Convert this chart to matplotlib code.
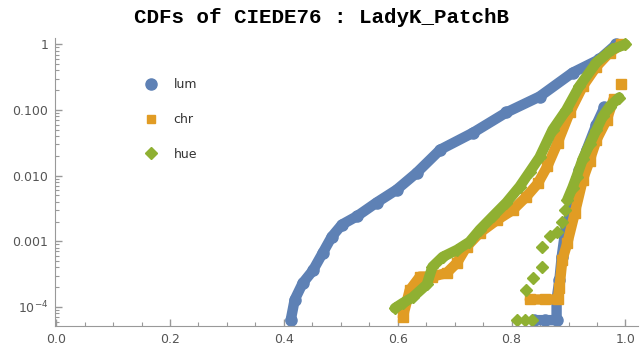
import numpy as np
import matplotlib.pyplot as plt
from matplotlib.lines import Line2D
from matplotlib.ticker import LogLocator, NullFormatter, MultipleLocator

plt.rcParams["font.family"] = "DejaVu Sans"

# values (x = CIEDE76 score, y = CDF, log scale)
lum_x = [0.412, 0.419, 0.433, 0.451, 0.468, 0.484, 0.502, 0.528, 0.563, 0.598,
         0.633, 0.675, 0.732, 0.791, 0.849, 0.907, 0.954, 0.984]
lum_y = [6.3e-5, 1.29e-4, 2.3e-4, 3.6e-4, 6.6e-4, 1.17e-3, 1.8e-3, 2.4e-3, 3.9e-3, 6.1e-3,
         0.011, 0.025, 0.045, 0.092, 0.16, 0.37, 0.59, 1.0]
lum2_x = [0.840, 0.858, 0.879, 0.879, 0.884, 0.888, 0.893, 0.896, 0.907, 0.914,
          0.919, 0.932, 0.949, 0.963]
lum2_y = [6.3e-5, 6.3e-5, 6.3e-5, 1.3e-4, 2.6e-4, 5.8e-4, 1.2e-3, 1.7e-3, 3.4e-3, 6.8e-3,
          0.012, 0.025, 0.060, 0.11]

chr_x = [0.609, 0.621, 0.639, 0.661, 0.686, 0.704, 0.721, 0.744, 0.774, 0.802,
         0.826, 0.846, 0.863, 0.881, 0.902, 0.925, 0.949, 0.972, 0.993]
chr_y = [7.1e-5, 1.8e-4, 2.9e-4, 2.9e-4, 3.3e-4, 4.7e-4, 8.3e-4, 1.35e-3, 2.1e-3, 3.0e-3,
         4.8e-3, 7.6e-3, 0.014, 0.032, 0.092, 0.23, 0.46, 0.75, 1.0]
chr2_x = [0.832, 0.858, 0.881, 0.884, 0.889, 0.898, 0.911, 0.925, 0.937, 0.949,
          0.967, 0.979]
chr2_y = [1.3e-4, 1.3e-4, 1.3e-4, 1.95e-4, 5.2e-4, 9.5e-4, 2.7e-3, 8.7e-3, 0.017, 0.035,
          0.071, 0.145]
chr_pt_x = [0.993]
chr_pt_y = [0.245]

hue_x = [0.595, 0.609, 0.626, 0.651, 0.661, 0.679, 0.704, 0.726, 0.744, 0.767,
         0.791, 0.814, 0.832, 0.849, 0.872, 0.896, 0.919, 0.949, 0.977, 1.0]
hue_y = [9.6e-5, 1.15e-4, 1.4e-4, 2.2e-4, 4.1e-4, 5.8e-4, 7.4e-4, 9.8e-4, 1.5e-3, 2.4e-3,
         3.9e-3, 6.8e-3, 0.0115, 0.019, 0.050, 0.10, 0.23, 0.53, 0.84, 1.0]
hue2_x = [0.898, 0.907, 0.914, 0.925, 0.937, 0.949, 0.960, 0.972, 0.989]
hue2_y = [4.3e-3, 6.6e-3, 9.6e-3, 0.018, 0.030, 0.050, 0.080, 0.113, 0.155]
hue_pts_x = [0.809, 0.823, 0.835, 0.826, 0.837, 0.853, 0.854, 0.867, 0.879, 0.888, 0.893]
hue_pts_y = [6.3e-5, 6.3e-5, 6.3e-5, 1.8e-4, 2.8e-4, 4.0e-4, 8.3e-4, 1.2e-3, 1.4e-3, 2.0e-3, 3.0e-3]

c_lum = "#5E81B5"
c_chr = "#E19C24"
c_hue = "#8FB032"

fig = plt.figure(figsize=(6.42, 3.49), dpi=100)
ax = fig.add_axes([55 / 642, 23 / 349, 583 / 642, 288 / 349])

band = dict(lw=7.5, solid_joinstyle="round", solid_capstyle="round")
ax.plot(lum_x, lum_y, color=c_lum, marker="o", ms=8, **band)
ax.plot(lum2_x, lum2_y, color=c_lum, marker="o", ms=8, **band)
ax.plot(chr_x, chr_y, color=c_chr, marker="s", ms=6.5, **band)
ax.plot(chr2_x, chr2_y, color=c_chr, marker="s", ms=6.5, **band)
ax.plot(chr_pt_x, chr_pt_y, color=c_chr, marker="s", ms=6.5, ls="none")
ax.plot(hue_x, hue_y, color=c_hue, marker="D", ms=6.5, **band)
ax.plot(hue2_x, hue2_y, color=c_hue, marker="D", ms=6.5, **band)
ax.plot(hue_pts_x, hue_pts_y, color=c_hue, marker="D", ms=6.5, ls="none")

ax.set_yscale("log")
ax.set_ylim(5.13e-5, 1.25)
ax.set_xlim(-0.002, 1.022)

ax.set_yticks([1e-4, 1e-3, 1e-2, 1e-1, 1],
              [r"$10^{-4}$", "0.001", "0.010", "0.100", "1"])
ax.yaxis.set_minor_locator(LogLocator(base=10, subs=np.arange(2, 10)))
ax.yaxis.set_minor_formatter(NullFormatter())
ax.set_xticks([0, 0.2, 0.4, 0.6, 0.8, 1.0], ["0.0", "0.2", "0.4", "0.6", "0.8", "1.0"])
ax.xaxis.set_minor_locator(MultipleLocator(0.05))

ax.tick_params(which="both", direction="in", color="#999999", labelcolor="#555555",
               labelsize=9, pad=5)
ax.tick_params(which="major", length=5, width=1)
ax.tick_params(which="minor", length=3, width=0.8)
for s in ["top", "right"]:
    ax.spines[s].set_visible(False)
for s in ["left", "bottom"]:
    ax.spines[s].set_color("#999999")

handles = [Line2D([], [], ls="none", marker="o", ms=8, color=c_lum),
           Line2D([], [], ls="none", marker="s", ms=6, color=c_chr),
           Line2D([], [], ls="none", marker="D", ms=6, color=c_hue)]
ax.legend(handles, ["lum", "chr", "hue"], loc="upper left", bbox_to_anchor=(0.135, 0.90),
          frameon=False, labelspacing=1.75, handlelength=1.0, handletextpad=1.3,
          fontsize=9, labelcolor="#333333")

fig.text(0.5, 0.951, "CDFs of CIEDE76 : LadyK_PatchB", ha="center", va="center",
         family="Liberation Mono", weight="bold", size=15)

plt.savefig("out.png", dpi=100)
